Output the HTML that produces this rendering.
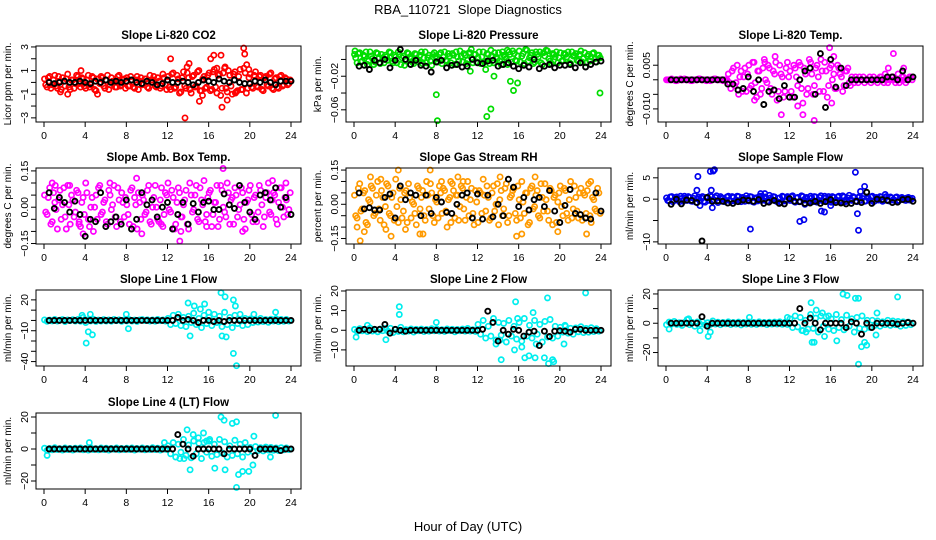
<!DOCTYPE html>
<html><head><meta charset="utf-8"><title>RBA_110721 Slope Diagnostics</title>
<style>
html,body{margin:0;padding:0;background:#fff;}
svg{display:block;font-family:"Liberation Sans",Arial,sans-serif;}
</style></head>
<body>
<svg id="chart" width="936" height="540" viewBox="0 0 936 540" xmlns="http://www.w3.org/2000/svg">
<rect x="0" y="0" width="936" height="540" fill="#fff"/>
<text x="468" y="14" text-anchor="middle" font-size="13" xml:space="preserve">RBA_110721  Slope Diagnostics</text>
<text x="468" y="531" text-anchor="middle" font-size="13">Hour of Day (UTC)</text>
</svg>
<script>
// ---------- DATA ----------
const hourTicks = [0,4,8,12,16,20,24];
const hourTickLabels = ["0","4","8","12","16","20","24"];

// CO2
const co2Color = [0.3,-0.4,0.5,-0.2,0.6,-0.5,0.1,0.4,-0.3,0.7,-0.6,0.2,-0.1,0.5,-0.4,0.3,
 -0.5,0.6,-0.2,0.4,-0.7,0.3,0.5,-0.3,0.2,-0.6,0.4,0.1,-0.4,0.6,-0.2,0.3,
 0.4,-0.3,0.2,-0.5,0.5,0.1,-0.2,0.3,-0.4,0.6,0.2,-0.3,0.4,-0.5,0.7,-0.2,
 0.5,-0.6,0.8,-0.4,0.3,-0.8,0.9,-0.5,0.4,-0.9,0.6,-0.3,1.0,-0.7,0.5,-0.4,
 0.8,-0.6,1.1,-0.9,0.7,-0.5,1.2,-0.8,0.6,-1.0,0.9,-0.7,1.1,-0.6,0.8,-0.5,
 0.7,-0.5,0.9,-0.4,0.6,-0.7,0.5,-0.3,0.8,-0.6,0.4,-0.5,0.6,-0.2,0.3,-0.1];
const co2ColorB = [-0.2,0.4,-0.5,0.2,-0.3,0.5,-0.6,0.1,0.3,-0.4,0.2,-0.5,0.6,-0.1,0.4,-0.3,
 0.2,-0.4,0.5,-0.6,0.3,-0.1,0.4,-0.5,0.6,-0.2,0.1,-0.4,0.5,-0.3,0.2,-0.5,
 -0.3,0.5,-0.4,0.2,-0.6,0.4,-0.1,0.3,-0.5,0.2,0.5,-0.4,0.1,-0.3,0.4,-0.6,
 -0.4,0.7,-0.5,0.6,-0.9,0.4,-0.3,0.8,-0.6,0.5,-0.4,0.9,-0.7,0.3,-0.5,0.6,
 -0.7,0.9,-0.4,0.6,-1.1,0.8,-0.5,1.0,-0.3,0.7,-0.8,0.5,-0.6,1.2,-0.9,0.4,
 -0.4,0.6,-0.3,0.5,-0.6,0.4,-0.2,0.7,-0.5,0.3,-0.4,0.5,-0.3,0.4,-0.2,0.2];
const co2Out = [[3.6,1.0],[2.3,-1.0],[5.2,-1.0],[12.3,2.0],[13.7,-3.0],[13.9,1.3],[14.1,1.6],[15.1,-1.6],[15.4,-1.1],[16.2,2.0],[16.5,2.3],[17.2,2.3],[17.3,-2.1],[17.6,1.3],[17.8,-1.5],[19.4,2.9],[19.5,2.4],[19.7,1.5],[18.6,-0.9],[16.8,1.2],[19.9,1.1],[1.6,-0.8]];
const co2Black = [0,-0.1,0,0.1,0,0,0.1,0,-0.1,0.1,0,0.2,0,0.1,0,0.1,0.2,0,-0.1,0.1,0,-0.2,-0.1,0.2,0,0,0.1,0,-0.2,0,0.2,0.1,0,0.3,0.1,0,0.2,0,-0.1,-0.1,0.1,0,0.2,0,-0.2,0.1,0.1,0.1];

// Pressure
const presColor = [0.006,-0.004,0.008,-0.002,0.004,-0.006,0.009,0.001,-0.003,0.007,-0.005,0.002,0.005,-0.001,0.008,-0.004,
 0.003,0.009,-0.006,0.004,-0.002,0.007,0.001,-0.005,0.006,-0.003,0.009,0.002,-0.004,0.005,-0.007,0.008,
 0.001,0.006,-0.005,0.009,-0.002,0.004,0.007,-0.006,0.003,0.010,-0.003,0.005,-0.001,0.008,-0.004,0.006,
 0.002,-0.005,0.009,-0.002,0.006,0.011,-0.004,0.003,0.008,-0.006,0.005,0.001,0.009,-0.003,0.007,-0.002,
 0.010,0.004,-0.005,0.011,0.002,0.008,-0.003,0.006,0.009,-0.006,0.004,0.010,-0.002,0.007,0.003,-0.004,
 0.008,-0.001,0.006,0.009,-0.005,0.004,0.007,-0.002,0.010,0.001,-0.004,0.006,0.003,0.008,-0.003,0.005];
const presColorB = [0.002,0.007,-0.003,0.005,0.009,-0.002,0.004,-0.006,0.008,0.001,0.006,-0.004,0.003,0.009,-0.002,0.005,
 -0.004,0.006,0.002,-0.007,0.008,0.003,-0.003,0.007,0.000,0.005,-0.005,0.009,0.002,-0.002,0.006,0.004,
 -0.003,0.008,0.003,-0.001,0.007,-0.004,0.005,0.009,-0.002,0.004,0.007,-0.005,0.008,0.002,0.006,-0.003,
 0.009,0.003,-0.003,0.007,-0.005,0.004,0.008,0.001,-0.002,0.009,0.003,-0.006,0.006,0.010,-0.001,0.004,
 -0.003,0.007,0.012,-0.002,0.005,-0.005,0.009,0.003,-0.004,0.008,0.011,0.001,-0.005,0.006,0.009,0.002,
 -0.002,0.007,0.003,-0.004,0.009,0.005,-0.001,0.006,-0.003,0.008,0.004,-0.002,0.007,0.001,0.005,0.002];
const presOut = [[0.1,0.010],[8.0,-0.042],[8.1,-0.073],[12.9,-0.068],[13.3,-0.059],[13.6,-0.020],[15.2,-0.026],[15.5,-0.037],[15.9,-0.028],[23.9,-0.040],[11.3,-0.014],[12.8,-0.012],[11.4,0.012],[14.9,0.011]];
const presBlack = [-0.008,-0.007,-0.012,-0.001,-0.004,0.000,-0.010,-0.001,0.012,0.000,-0.006,-0.001,-0.007,-0.008,-0.015,-0.003,-0.001,-0.010,-0.007,-0.006,-0.009,-0.008,0.000,-0.004,-0.005,-0.002,-0.001,-0.008,-0.006,-0.004,-0.008,-0.011,-0.007,-0.009,0.000,-0.011,-0.008,-0.006,-0.010,-0.007,-0.007,-0.006,-0.010,-0.004,-0.009,-0.006,-0.003,-0.002];

// Li-820 Temp
const tempColor = [0,0,0.0003,0,-0.0003,0,0,0.0003,0,0,-0.0003,0,0,0.0003,0,0,0,-0.0003,0,0.0003,0,0,-0.0003,0,
 0.002,-0.003,0.004,-0.001,-0.005,0.003,0.001,-0.004,0.005,-0.002,0.006,-0.006,0.003,-0.003,0.007,-0.001,0.004,-0.005,0.002,-0.007,0.005,0.001,-0.004,0.006,
 0.003,-0.006,0.004,-0.002,0.005,-0.008,0.002,-0.003,0.006,-0.005,0.004,0.001,0.007,-0.004,0.003,-0.002,0.005,0.002,-0.003,0.004,0.001,-0.002,0.003,-0.001,
 0.001,-0.001,0,0.001,0,-0.001,0,0.001,0,0,-0.001,0.001,0,0.002,-0.001,0,0.001,-0.001,0.002,0,0.001,-0.001,0,0.001];
const tempColorB = [0,0,0,-0.0003,0,0.0003,0,0,0,-0.0003,0,0,0.0003,0,0,-0.0003,0,0,0.0003,0,0,0,0,0,
 -0.001,0.003,-0.002,0.005,0.001,-0.004,0.004,0.002,-0.003,0.006,-0.001,0.003,-0.005,0.004,0.000,0.005,-0.003,0.003,0.006,-0.004,0.002,-0.006,0.004,0.001,
 -0.004,0.005,0.001,0.006,-0.003,0.004,-0.005,0.007,0.002,-0.002,0.005,-0.004,0.003,0.006,-0.006,0.004,0.000,-0.003,0.005,0.002,-0.004,0.003,0.004,-0.002,
 0,0.001,-0.001,0,0.001,0,0,-0.001,0.001,0,0,0.001,-0.001,0,0,0.001,0,0,-0.001,0.001,0,0,0.001,0];
const tempOut = [[10.6,0.008],[14.4,-0.014],[15.9,0.011],[16.3,0.008],[11.2,-0.012],[13.3,-0.012],[9.6,0.006],[22.1,0.009],[12.8,-0.009],[8.6,-0.007],[16.1,-0.008],[21.6,0.004],[23.1,0.004]];
const tempBlack = [0,0,0,0,0,0,0,0,0,0,0,-0.0015,-0.0015,-0.0035,-0.003,0.001,-0.004,0,-0.0085,-0.004,-0.0035,-0.0065,-0.002,-0.006,-0.006,0,0.003,0.004,-0.005,0.009,-0.0095,0.007,-0.0025,0.004,-0.002,0,0,0,0,0,0,0,0.001,0.001,0,0.003,0,0.001];

// Amb box temp
const ambColor = [0.05,-0.03,0.08,-0.06,0.02,-0.09,0.07,0.01,-0.04,0.09,-0.07,0.03,-0.02,0.06,-0.08,0.04,0.10,-0.05,0.00,-0.10,0.05,0.08,-0.03,0.02,-0.06,0.07,-0.01,0.09,-0.08,0.03,0.06,-0.04,0.01,-0.07,0.08,0.04,-0.09,0.02,0.05,-0.03,0.07,-0.06,0.00,0.09,-0.05,0.03,-0.08,0.06,0.10,-0.02,0.04,-0.07,0.08,-0.04,0.01,0.07,-0.09,0.05,-0.01,0.09,-0.06,0.03,0.11,-0.03,0.06,-0.08,0.02,0.09,-0.05,0.07,-0.02,0.10,-0.07,0.04,0.08,-0.04,0.01,0.06,-0.09,0.03,0.09,-0.06,0.05,-0.02,0.07,-0.08,0.04,0.10,-0.03,0.06,-0.05,0.02,0.08,-0.04,0.03,-0.01];
const ambColorB = [-0.02,0.04,-0.07,0.06,-0.01,0.03,-0.05,0.08,-0.09,0.01,0.05,-0.04,0.07,-0.06,0.02,-0.03,0.06,-0.08,0.04,0.00,-0.05,0.09,-0.02,0.03,-0.07,0.05,0.01,-0.04,0.08,-0.06,0.02,0.04,-0.03,0.07,-0.08,0.01,0.06,-0.05,0.03,-0.02,0.09,-0.07,0.04,0.00,-0.06,0.08,-0.03,0.05,-0.01,0.07,-0.09,0.02,0.06,-0.04,0.03,-0.07,0.10,-0.02,0.05,-0.05,0.08,0.01,-0.06,0.04,0.07,-0.03,0.02,-0.08,0.09,0.00,-0.04,0.06,0.03,-0.07,0.05,-0.01,0.08,-0.05,0.02,0.07,-0.03,0.04,-0.06,0.09,0.01,-0.04,0.06,-0.02,0.03,0.05,-0.07,0.08,0.00,0.04,-0.03,0.06];
const ambOut = [[0.8,0.10],[1.1,0.09],[2.5,0.09],[3.8,-0.11],[6.4,0.10],[9.0,0.12],[9.5,-0.11],[13.2,-0.14],[13.3,-0.10],[15.8,-0.08],[17.4,0.16],[19.3,-0.10],[22.2,0.11],[23.5,0.10],[3.4,-0.07],[11.4,-0.07]];
const ambBlack = [0.06,-0.005,0.04,0.02,-0.02,0.025,-0.03,-0.12,-0.05,-0.06,0.06,-0.08,-0.06,-0.04,-0.07,0.03,-0.09,-0.05,0.06,0.01,0.03,-0.04,0.00,0.02,-0.09,-0.03,0.02,-0.07,0.015,-0.02,0.02,0.025,-0.01,-0.01,0.055,0.01,-0.005,0.09,0.02,-0.02,-0.05,0.05,0.06,0.03,0.08,0.00,0.04,-0.03];

// Gas stream RH
const rhColor = [0.04,-0.06,0.09,-0.02,0.06,-0.09,0.01,0.07,-0.04,0.10,-0.07,0.03,-0.01,0.08,-0.05,0.05,0.11,-0.08,0.02,-0.03,0.06,0.09,-0.06,0.00,-0.09,0.07,0.03,-0.05,0.10,-0.02,0.05,-0.08,0.01,0.08,-0.04,0.06,-0.10,0.03,0.09,-0.06,0.04,-0.01,0.07,-0.07,0.10,0.02,-0.04,0.06,-0.08,0.05,0.11,-0.03,0.03,-0.06,0.08,0.00,-0.09,0.06,-0.02,0.09,-0.05,0.04,0.07,-0.07,0.02,0.10,-0.04,0.05,-0.08,0.08,-0.01,0.06,-0.06,0.03,0.09,-0.03,0.07,-0.09,0.04,0.01,0.08,-0.05,0.06,-0.07,0.10,-0.02,0.03,-0.06,0.07,0.05,-0.04,0.09,-0.08,0.02,-0.03,0.05];
const rhColorB = [-0.05,0.07,-0.03,0.05,-0.08,0.02,0.08,-0.05,0.04,-0.02,0.06,-0.09,0.09,-0.04,0.03,-0.07,-0.01,0.07,-0.06,0.05,-0.08,0.03,0.01,-0.04,0.08,-0.02,0.06,-0.07,0.04,0.09,-0.05,0.02,-0.06,0.05,0.07,-0.03,0.02,-0.08,0.06,0.04,-0.07,0.08,-0.02,0.03,-0.05,0.07,-0.09,0.01,0.06,-0.04,0.04,0.08,-0.07,0.05,-0.03,0.09,0.02,-0.05,0.07,-0.08,0.03,0.06,-0.04,0.08,-0.06,0.01,0.05,-0.09,0.07,-0.02,0.04,-0.05,0.09,-0.03,0.02,-0.07,0.06,0.03,-0.08,0.05,-0.01,0.07,-0.04,0.02,-0.06,0.08,-0.03,0.05,-0.07,0.04,0.06,-0.05,0.03,-0.02,0.07,-0.04];
const rhOut = [[0.3,-0.10],[0.6,-0.16],[1.0,-0.12],[1.6,0.12],[2.6,0.11],[3.1,-0.11],[3.6,-0.14],[4.3,0.15],[5.0,-0.11],[6.4,-0.13],[6.7,-0.13],[7.4,0.15],[8.5,0.10],[9.4,0.10],[10.1,0.12],[10.6,0.10],[14.2,0.12],[15.8,-0.14],[16.3,-0.13],[17.6,0.12],[19.8,-0.12],[22.6,-0.13],[23.0,0.10]];
const rhBlack = [0.05,-0.02,-0.015,-0.025,-0.025,0.03,0.045,-0.06,0.08,0.02,0.05,0.04,-0.05,0.04,-0.04,0.03,0.01,-0.035,-0.04,0.0,0.04,0.05,-0.06,0.045,-0.065,0.04,-0.055,0.00,-0.05,0.11,0.075,-0.01,0.03,-0.025,0.02,0.03,-0.01,0.06,-0.03,-0.08,-0.005,0.065,-0.04,-0.045,-0.06,-0.065,0.05,-0.03];

// Sample flow
const sfColor = [0.3,-0.4,0.6,-0.2,0.5,-0.6,0.2,0.7,-0.3,0.4,-0.5,0.8,0.1,-0.4,0.6,-0.7,0.3,0.9,-0.5,0.4,-0.8,0.6,0.2,-0.3,0.7,-0.5,0.4,-0.2,0.6,-0.6,0.3,0.8,-0.4,0.5,-0.7,0.2,0.6,-0.3,0.4,-0.5,0.9,-0.2,0.5,-0.6,0.3,0.7,-0.4,0.6,-0.3,0.8,-0.7,0.4,-0.5,0.6,0.2,-0.4,0.7,-0.6,0.5,-0.3,0.8,-0.5,0.3,0.6,-0.7,0.4,-0.2,0.7,-0.6,0.5,-0.4,0.9,-0.3,0.4,-0.6,0.6,0.2,-0.5,0.5,-0.3,0.7,-0.4,0.3,0.6,-0.5,0.4,-0.3,0.5,-0.2,0.4,-0.4,0.3,0.2,-0.3,0.4,-0.1];
const sfColorB = [-0.3,0.5,-0.6,0.4,-0.2,0.7,-0.5,0.3,0.6,-0.4,0.2,-0.7,0.5,0.3,-0.5,0.4,-0.3,0.6,-0.2,0.8,-0.4,0.3,-0.6,0.5,-0.2,0.6,-0.4,0.7,-0.3,0.4,-0.5,0.2,0.6,-0.6,0.3,-0.4,0.7,-0.2,0.5,-0.5,0.3,0.6,-0.4,0.2,-0.7,0.5,-0.3,0.4,0.6,-0.5,0.3,-0.6,0.8,-0.2,0.4,-0.5,0.3,0.6,-0.7,0.4,-0.3,0.7,-0.5,0.2,0.6,-0.4,0.5,-0.3,0.8,-0.6,0.3,-0.2,0.6,-0.5,0.4,-0.3,0.7,-0.4,0.2,0.5,-0.6,0.4,-0.2,0.5,-0.3,0.6,-0.4,0.3,-0.2,0.5,-0.3,0.4,-0.2,0.3,-0.2,0.2];
const sfOut = [[3.1,5.3],[3.0,2.1],[4.3,6.5],[4.6,6.6],[4.7,6.9],[4.4,2.1],[4.5,-2.0],[3.3,-1.5],[8.2,-7.0],[13.0,-5.2],[13.4,-4.8],[15.1,-2.8],[15.4,-3.0],[18.4,6.3],[18.6,-3.4],[18.7,-7.3],[19.3,3.0],[18.9,1.8],[16.0,-1.5],[9.2,1.3],[9.6,1.3],[21.3,1.1],[13.5,-1.2]];
const sfBlack = [-1.2,0.0,-1.1,-0.2,-0.3,-0.8,-9.8,0.4,-0.5,-0.4,-0.5,-0.9,-1.0,-0.6,-0.2,-0.3,-0.5,-0.1,-1.0,-0.7,-0.3,-1.0,-1.1,0.1,-0.5,-0.6,-1.0,-0.9,-0.5,-1.0,-0.6,-0.1,-0.8,-0.9,-1.1,-1.0,-0.5,-0.8,1.6,-1.0,0.0,-0.1,-0.3,-0.8,-0.7,-0.1,0.0,-0.5];

// Line 1 flow
const l1Color = [0.5,-0.8,0.3,-0.4,1.0,-0.6,0.2,0.8,-1.0,0.4,-0.3,0.7,-0.5,0.9,-0.7,3.0,-2.0,0.6,-0.4,1.2,-0.9,0.3,-0.6,0.8,-0.5,0.4,-0.7,1.0,-0.3,0.6,-0.8,0.5,
 -0.4,0.7,-0.6,0.3,-0.9,0.5,0.8,-0.2,0.6,-0.5,0.4,-0.7,0.9,-0.3,0.5,-0.6,
 2.0,-4.0,5.0,-3.0,6.0,-5.0,3.0,-6.0,4.0,-2.0,7.0,-4.0,2.0,-7.0,5.0,-3.0,3.0,-5.0,6.0,-2.0,4.0,-6.0,8.0,-4.0,3.0,-7.0,5.0,-3.0,6.0,-5.0,2.0,-4.0,
 1.5,-2.0,1.0,-1.5,2.0,-1.0,0.8,-1.8,1.2,-0.6,1.6,-1.2,0.9,-0.8,1.0,-0.5];
const l1Out = [[4.1,-22],[4.3,-11],[4.7,-14],[4.5,6],[8.0,6],[8.2,-8],[14.0,17],[14.2,-15],[14.6,14],[15.2,11],[15.6,16],[17.2,27],[17.6,23],[18.4,20],[18.6,14],[18.4,-32],[18.7,-44],[17.3,-15],[17.7,-16],[22.5,8],[16.0,8],[20.4,6],[3.7,5]];
const l1Black = [0,0,0,0,0,0,0,0,0,0,0,0,0,0,0,0,0,0,0,0,0,0,0,0,0,3,0,1,0,-2,0,0,-1,0,-1,0,0,0,0,0,0,0,0,0,0,0,0,0];

// Line 2 flow
const l2Color = [0.4,-0.6,0.8,-0.3,0.5,-0.7,1.2,-0.4,0.3,-0.8,0.6,-0.2,0.9,-0.5,1.0,-1.2,0.4,-0.6,1.5,-0.8,0.3,-0.4,0.7,-0.9,0.5,-0.3,0.6,-0.7,0.4,-0.5,0.8,-0.3,
 0.6,-0.4,0.3,-0.6,0.7,-0.2,0.5,-0.8,0.4,-0.3,0.6,-0.5,0.9,-0.4,0.3,-0.6,
 3.0,-2.0,5.0,-4.0,2.0,-3.0,6.0,-5.0,4.0,-2.5,3.5,-6.0,5.0,-3.0,2.0,-4.5,4.0,-5.5,6.0,-3.0,2.5,-4.0,5.0,-2.0,3.0,-6.0,4.5,-3.5,5.5,-4.0,2.0,-3.0,
 1.5,-1.0,2.0,-1.5,1.0,-2.0,1.2,-0.8,1.8,-1.2,0.9,-1.0,1.3,-0.7,0.8,-0.5];
const l2Out = [[0.2,-3.5],[3.1,-4.8],[4.4,12],[4.4,8],[8,4],[14.3,-15],[15.6,-10],[15.7,14.5],[15.9,6],[16.3,-8.5],[16.6,-14],[17,-13],[17.4,9],[17.6,-14],[17.7,-7],[18.5,-14],[18.8,16.5],[18.9,-17],[19.3,-15],[19.4,-16],[20.4,-7],[22.5,19],[13.8,-7],[14.2,-5],[1.3,2.5],[20.5,2.5]];
const l2Black = [0,0.5,0,0.5,0.5,3,-1.5,0.5,0,-0.5,0,0,0,0,0,0,0,0,0,0,0,0,0,0,0.5,9.7,4,-5.5,0,-2,0.5,0,-3,-1,-0.5,-7.8,-0.5,-3.2,-0.5,-0.2,-0.5,-1,0.5,0.5,0,0,0,0];

// Line 3 flow
const l3Color = [-1.0,0.8,-0.5,1.2,-0.8,0.4,-1.5,0.6,2.5,-1.0,0.5,-2.0,0.9,-0.6,1.0,-1.2,0.4,-0.8,1.5,-0.5,0.7,-1.0,0.6,-0.4,1.0,-0.9,0.5,-0.6,0.8,-1.1,0.6,-0.5,
 0.9,-0.7,0.5,-0.8,1.0,-0.4,0.6,-0.9,0.7,-0.5,0.8,-0.6,1.0,-0.7,0.5,-0.8,
 3.0,-3.0,5.0,-2.5,4.0,-5.0,2.0,-4.0,6.0,-3.5,3.5,-6.0,5.0,-2.0,4.5,-4.0,3.0,-5.0,6.0,-3.0,2.5,-4.5,5.5,-2.0,3.0,-6.0,4.0,-3.5,5.0,-4.0,2.0,-3.0,
 2.0,-1.5,1.5,-2.0,1.0,-1.0,2.0,-1.5,1.5,-1.0,1.2,-2.0,1.0,-1.5,0.8,-1.0];
const l3Out = [[0.3,-4],[3.3,-5],[4.1,-9],[4.3,-6],[8.1,4],[11.8,4],[13.2,-5],[13.6,-6],[14.1,14],[14.2,-13],[14.4,-13],[14.6,9],[15.2,7],[15.4,-9],[16.6,-12],[17.2,20],[17.6,19],[18.4,17],[18.7,17],[18.7,-28],[19.0,-16],[19.3,-13],[19.5,-15],[20.4,-8],[20.5,7],[22.5,18],[15.8,5],[2.2,3]];
const l3Black = [0,0,0,0,0,0,4.5,-2,0,0,0,0,0,0,0,0,0,0,0,0,0,0,0,0,0,10,0,3.5,0,-4.5,0,0,0,0,-3,1,0,-7.5,0,-3,0,0,0,0,-0.5,0,0.5,0];

// Line 4 (LT) flow
const l4Color = [0.5,-0.8,0.3,-0.5,0.8,-0.4,0.2,-0.6,0.7,-0.3,0.4,-0.7,0.5,-0.2,0.6,-0.5,0.3,-0.6,0.8,-0.4,0.2,-0.5,0.6,-0.3,0.5,-0.7,0.4,-0.2,0.6,-0.5,0.3,-0.4,
 0.5,-0.3,0.7,-0.6,0.4,-0.2,0.6,-0.5,0.3,-0.4,0.8,-0.3,0.5,-0.6,0.4,-0.2,
 2.0,-3.0,4.0,-5.0,3.0,-2.0,6.0,-4.0,2.5,-5.5,5.0,-3.0,3.5,-6.0,4.0,-2.0,5.0,-4.5,3.0,-3.5,6.0,-2.5,4.5,-5.0,2.0,-4.0,5.5,-3.0,3.0,-5.0,4.0,-2.0,
 1.0,-1.5,1.5,-1.0,0.8,-1.2,1.2,-0.6,1.0,-0.8,0.6,-1.0,0.8,-0.5,0.6,-0.4];
const l4Out = [[0.3,-4],[4.4,4],[11.7,4],[13.2,-6],[13.9,12],[14.2,-13],[14.5,9],[15.0,7],[15.5,10],[15.8,5],[16.1,6],[16.6,-12],[17.2,20],[17.5,18],[18.3,16],[18.7,17],[18.9,-16],[18.7,-24],[19.3,-14],[19.9,-14],[20.4,8],[20.3,-10],[22.5,21],[17.6,-13],[13.6,-6],[22.0,-5]];
const l4Black = [0,0,0,0,0,0,0,0,0,0,0,0,0,0,0,0,0,0,0,0,0,0,0,0,0,9,3,0,-4.5,0,0,0,0,0,-3,0,0,0,0,0,-4,0,0,0,0,-1,0,0];

// ---------- LAYOUT ----------
const svg = document.getElementById('chart');
const NS = 'http://www.w3.org/2000/svg';
const colLeft = [36, 346, 658];
const rowTop = [46, 168, 290, 413];
const boxW = 265, boxH = 76;

function mk(tag, attrs, parent){
  const e = document.createElementNS(NS, tag);
  for (const k in attrs) e.setAttribute(k, attrs[k]);
  (parent || svg).appendChild(e);
  return e;
}

function drawPanel(p){
  const L = colLeft[p.col], T = rowTop[p.row];
  const g = mk('g', {});
  
  
  const xScale = h => L + 8 + (h / 24) * (boxW - 18);
  const yScale = v => T + (p.yMax - v) / (p.yMax - p.yMin) * boxH;

  const drawPts = (vals, step, offset, color, name, w, r) => {
    vals.forEach((v, i) => {
      const c = mk('circle', {cx: xScale(offset + i * step).toFixed(1), cy: yScale(v).toFixed(1), r: r, fill: 'none', stroke: color, 'stroke-width': w}, g);
      
      
    });
  };
  drawPts(p.colorA, 0.25, 0.05, p.color, p.key + '-point', 1.7, 2.6);
  if (p.colorB) drawPts(p.colorB, 0.25, 0.17, p.color, p.key + '-point', 1.7, 2.6);
  p.out.forEach(o => {
    const c = mk('circle', {cx: xScale(o[0]).toFixed(1), cy: yScale(o[1]).toFixed(1), r: 2.6, fill: 'none', stroke: p.color, 'stroke-width': 1.7}, g);
    
    
  });
  drawPts(p.black, 0.5, 0.5, '#000', p.key + '-mean-point', 1.9, 2.5);

  const box = mk('rect', {x: L, y: T, width: boxW, height: boxH, fill: 'none', stroke: '#000', 'stroke-width': 1}, g);
  
  

  const t = mk('text', {x: L + boxW / 2, y: T - 7, 'text-anchor': 'middle', 'font-size': 11.5, 'font-weight': 'bold'}, g);
  t.textContent = p.title;
  
  

  hourTicks.forEach((h, i) => {
    const x = xScale(h);
    const tk = mk('line', {x1: x, x2: x, y1: T + boxH, y2: T + boxH + 5, stroke: '#000'}, g);
    
    
    const lb = mk('text', {x: x, y: T + boxH + 17, 'text-anchor': 'middle', 'font-size': 10.5}, g);
    lb.textContent = hourTickLabels[i];
    
    
  });

  p.yTicks.forEach(v => {
    const y = yScale(v);
    const tk = mk('line', {x1: L - 5, x2: L, y1: y, y2: y, stroke: '#000'}, g);
    
    
  });
  p.yLabels.forEach((lab, i) => {
    const y = yScale(p.yLabelVals[i]);
    const lb = mk('text', {x: 0, y: 0, 'text-anchor': 'middle', 'font-size': 10.5, transform: `translate(${L - 8},${y}) rotate(-90)`}, g);
    lb.textContent = lab;
    
    
  });
  const yt = mk('text', {x: 0, y: 0, 'text-anchor': 'middle', 'font-size': 10, transform: `translate(${L - 25},${T + boxH / 2}) rotate(-90)`}, g);
  yt.textContent = p.ylab;
  
  
}

const panels = [
  {key:'co2', row:0, col:0, title:'Slope Li-820 CO2', ylab:'Licor ppm per min.', color:'#ff0000', yMin:-3.35, yMax:3.08, yTicks:[-3,-2,-1,0,1,2,3], yLabelVals:[3,1,-1,-3], yLabels:['3','1','\u22121','\u22123'], colorA:co2Color, colorB:co2ColorB, out:co2Out, black:co2Black},
  {key:'pressure', row:0, col:1, title:'Slope Li-820 Pressure', ylab:'kPa per min.', color:'#00dd00', yMin:-0.0745, yMax:0.016, yTicks:[0,-0.02,-0.04,-0.06], yLabelVals:[-0.02,-0.06], yLabels:['\u22120.02','\u22120.06'], colorA:presColor, colorB:presColorB, out:presOut, black:presBlack},
  {key:'li820-temp', row:0, col:2, title:'Slope Li-820 Temp.', ylab:'degrees C per min.', color:'#ff00ff', yMin:-0.0145, yMax:0.0116, yTicks:[0.005,0,-0.005,-0.01], yLabelVals:[0.005,-0.01], yLabels:['0.005','\u22120.010'], colorA:tempColor, colorB:tempColorB, out:tempOut, black:tempBlack},
  {key:'amb-box-temp', row:1, col:0, title:'Slope Amb. Box Temp.', ylab:'degrees C per min.', color:'#ff00ff', yMin:-0.152, yMax:0.162, yTicks:[0.15,0.1,0.05,0,-0.05,-0.1,-0.15], yLabelVals:[0.15,0,-0.15], yLabels:['0.15','0.00','\u22120.15'], colorA:ambColor, colorB:ambColorB, out:ambOut, black:ambBlack},
  {key:'gas-stream-rh', row:1, col:1, title:'Slope Gas Stream RH', ylab:'percent per min.', color:'#ff9a00', yMin:-0.174, yMax:0.159, yTicks:[0.15,0.1,0.05,0,-0.05,-0.1,-0.15], yLabelVals:[0.15,0,-0.15], yLabels:['0.15','0.00','\u22120.15'], colorA:rhColor, colorB:rhColorB, out:rhOut, black:rhBlack},
  {key:'sample-flow', row:1, col:2, title:'Slope Sample Flow', ylab:'ml/min per min.', color:'#0000ee', yMin:-10.5, yMax:7.3, yTicks:[5,0,-5,-10], yLabelVals:[5,0,-10], yLabels:['5','0','\u221210'], colorA:sfColor, colorB:sfColorB, out:sfOut, black:sfBlack},
  {key:'line1-flow', row:2, col:0, title:'Slope Line 1 Flow', ylab:'ml/min per min.', color:'#00eeee', yMin:-44.3, yMax:29.6, yTicks:[20,10,0,-10,-20,-30,-40], yLabelVals:[20,-10,-40], yLabels:['20','\u221210','\u221240'], colorA:l1Color, colorB:null, out:l1Out, black:l1Black},
  {key:'line2-flow', row:2, col:1, title:'Slope Line 2 Flow', ylab:'ml/min per min.', color:'#00eeee', yMin:-18.2, yMax:20.5, yTicks:[20,10,0,-10], yLabelVals:[20,10,0,-10], yLabels:['20','10','0','\u221210'], colorA:l2Color, colorB:null, out:l2Out, black:l2Black},
  {key:'line3-flow', row:2, col:2, title:'Slope Line 3 Flow', ylab:'ml/min per min.', color:'#00eeee', yMin:-29.2, yMax:22.7, yTicks:[20,10,0,-10,-20], yLabelVals:[20,0,-20], yLabels:['20','0','\u221220'], colorA:l3Color, colorB:null, out:l3Out, black:l3Black},
  {key:'line4-flow', row:3, col:0, title:'Slope Line 4 (LT) Flow', ylab:'ml/min per min.', color:'#00eeee', yMin:-25, yMax:22.5, yTicks:[20,10,0,-10,-20], yLabelVals:[20,0,-20], yLabels:['20','0','\u221220'], colorA:l4Color, colorB:null, out:l4Out, black:l4Black}
];
panels.forEach(drawPanel);
</script>
</body></html>
